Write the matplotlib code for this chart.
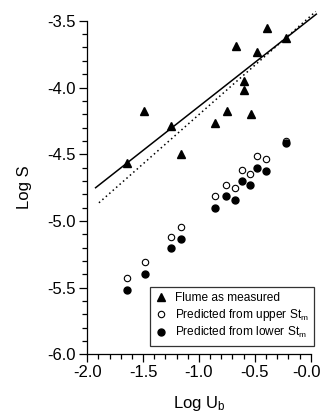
import matplotlib
matplotlib.use("Agg")
import matplotlib.pyplot as plt
import matplotlib.transforms as mtransforms
from matplotlib.lines import Line2D

plt.rcParams['font.family'] = ['Liberation Sans', 'DejaVu Sans']
plt.rcParams['mathtext.fontset'] = 'custom'
plt.rcParams['mathtext.rm'] = 'Liberation Sans'
plt.rcParams['mathtext.it'] = 'Liberation Sans'
plt.rcParams['axes.unicode_minus'] = False

# Flume as measured (triangles)
flume_x = [-1.641, -1.489, -1.249, -1.160, -0.855, -0.750, -0.669, -0.601,
           -0.597, -0.535, -0.481, -0.391, -0.218]
flume_y = [-4.564, -4.174, -4.289, -4.501, -4.268, -4.174, -3.689, -3.949,
           -4.019, -4.201, -3.732, -3.556, -3.627]

# Predicted points
pred_x = [-1.644, -1.487, -1.254, -1.162, -0.861, -0.756, -0.675, -0.611,
          -0.541, -0.483, -0.404, -0.222]
upper_y = [-5.430, -5.310, -5.117, -5.048, -4.811, -4.729, -4.751, -4.618,
           -4.646, -4.513, -4.534, -4.399]
lower_y = [-5.516, -5.396, -5.205, -5.138, -4.901, -4.816, -4.841, -4.703,
           -4.733, -4.601, -4.624, -4.418]

# Regression lines (end points)
solid_x = [-1.925, 0.05]
solid_y = [-4.751, -3.45]
dotted_x = [-1.895, 0.045]
dotted_y = [-4.864, -3.43]

xticks = [-2.0, -1.5, -1.0, -0.5, 0.0]
xticklabels = ['-2.0', '-1.5', '-1.0', '-0.5', '-0.0']
yticks = [-3.5, -4.0, -4.5, -5.0, -5.5, -6.0]
yticklabels = ['-3.5', '-4.0', '-4.5', '-5.0', '-5.5', '-6.0']

fig = plt.figure(figsize=(3.23, 4.13), dpi=100)
ax = fig.add_axes([0.270, 0.142, 0.692, 0.8076])

ax.plot(solid_x, solid_y, color='black', lw=1.1, clip_on=False)
ax.plot(dotted_x, dotted_y, color='black', lw=1.1, linestyle=(0, (1, 2)), clip_on=False)

ax.plot(flume_x, flume_y, linestyle='none', marker='^', ms=5.4, color='black', clip_on=False)
ax.plot(pred_x, upper_y, linestyle='none', marker='o', ms=4.6, mfc='white', mec='black', mew=0.8, clip_on=False)
ax.plot(pred_x, lower_y, linestyle='none', marker='o', ms=5.0, color='black', clip_on=False)

ax.set_xlim(-2.0, 0.0)
ax.set_ylim(-6.0, -3.5)
ax.set_xticks(xticks)
ax.set_xticklabels(xticklabels)
ax.set_yticks(yticks)
ax.set_yticklabels(yticklabels)
ax.set_xticks([-2.0 + 0.1 * i for i in range(21)], minor=True)
ax.set_yticks([-6.0 + 0.1 * i for i in range(26)], minor=True)
ax.tick_params(which='major', direction='out', length=6, width=0.9, labelsize=12, pad=2)
ax.tick_params(which='minor', direction='out', length=3.5, width=0.9)
for s in ['top', 'right']:
    ax.spines[s].set_visible(False)
for s in ['left', 'bottom']:
    ax.spines[s].set_linewidth(0.9)

# nudge the last x tick label so it stays inside the figure
last = ax.get_xticklabels()[-1]
last.set_transform(last.get_transform() + mtransforms.ScaledTranslation(-4 / 100, 0, fig.dpi_scale_trans))

ax.set_xlabel(r'Log U$_{\rm b}$', fontsize=12, labelpad=10)
ax.set_ylabel('Log S', fontsize=12, labelpad=11)

handles = [
    Line2D([], [], linestyle='none', marker='^', ms=5.4, color='black'),
    Line2D([], [], linestyle='none', marker='o', ms=4.6, mfc='white', mec='black', mew=0.8),
    Line2D([], [], linestyle='none', marker='o', ms=5.0, color='black'),
]
labels = ['Flume as measured', r'Predicted from upper St$_{\rm m}$', r'Predicted from lower St$_{\rm m}$']
leg = ax.legend(handles, labels, loc='lower right', bbox_to_anchor=(1.014, 0.026),
                fontsize=8.6, frameon=True, fancybox=False, edgecolor='black',
                handlelength=1.0, handletextpad=0.6, borderpad=0.45, labelspacing=0.2,
                borderaxespad=0)
leg.get_frame().set_linewidth(0.9)
leg.set_clip_on(False)

fig.savefig('out.png', dpi=100)
